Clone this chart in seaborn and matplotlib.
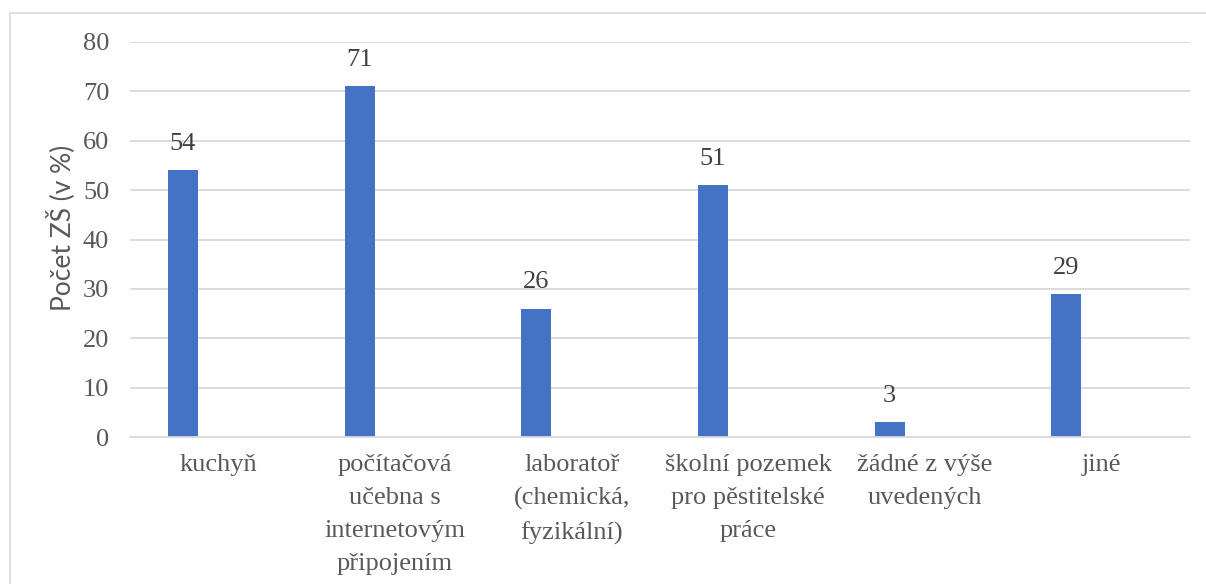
import numpy as np
import pandas as pd
import matplotlib
matplotlib.use("Agg")
import matplotlib.pyplot as plt
from matplotlib.patches import Rectangle
import seaborn as sns

categories = ["kuchyň", "počítačová\nučebna s\ninternetovým\npřipojením",
              "laboratoř\n(chemická,\nfyzikální)", "školní pozemek\npro pěstitelské\npráce",
              "žádné z výše\nuvedených", "jiné"]
values = [54, 71, 26, 51, 3, 29]
yticks = [0, 10, 20, 30, 40, 50, 60, 70, 80]
ylabel = "Počet ZŠ (v %)"

sns.set_theme(style="white")
plt.rcParams["font.serif"] = ["Liberation Serif", "DejaVu Serif"]
plt.rcParams["font.family"] = ["serif"]

fig = plt.figure(figsize=(12.06, 5.84), dpi=100)
ax = fig.add_axes([130/1206, 1 - 437/584, (1190-130)/1206, (437-42)/584])

cat_idx = np.arange(len(categories))
df = pd.DataFrame({"pos": cat_idx - 0.2, "value": values})
sns.barplot(data=df, x="pos", y="value", native_scale=True, width=0.17,
            color="#4472C4", saturation=1, ax=ax, errorbar=None, linewidth=0)

ax.set_xlim(-0.5, len(categories) - 0.5)
ax.set_ylim(0, 80)
ax.set_yticks(yticks)
ax.set_yticklabels([str(t) for t in yticks], family="serif", fontsize=19, color="#595959")
ax.set_xticks(cat_idx)
ax.set_xticklabels(categories, family="serif", fontsize=19, color="#595959", va="top")
for t in ax.get_xticklabels():
    t.set_linespacing(1.65)
ax.tick_params(axis="x", length=0, pad=12)
ax.tick_params(axis="y", length=0, pad=15)
ax.set_xlabel("")
ax.set_ylabel(ylabel, family=["Lato", "DejaVu Sans"], fontsize=19, color="#595959")
ax.yaxis.set_label_coords(-0.052, 0.53)

ax.grid(axis="y", color="#d9d9d9", linewidth=1.3)
ax.set_axisbelow(True)
for s in ["top", "right", "left"]:
    ax.spines[s].set_visible(False)
ax.spines["bottom"].set_color("#d9d9d9")
ax.spines["bottom"].set_linewidth(1.3)

for c in ax.containers:
    ax.bar_label(c, labels=[str(v) for v in values], padding=11,
                 family="serif", fontsize=19, color="#404040")

fig.patches.append(Rectangle((10/1206, -0.1), 1.0, 1 - 13/584 + 0.1,
                             transform=fig.transFigure, fill=False,
                             edgecolor="#d9d9d9", linewidth=1.2))

fig.savefig("out.png", dpi=100, facecolor="white")
